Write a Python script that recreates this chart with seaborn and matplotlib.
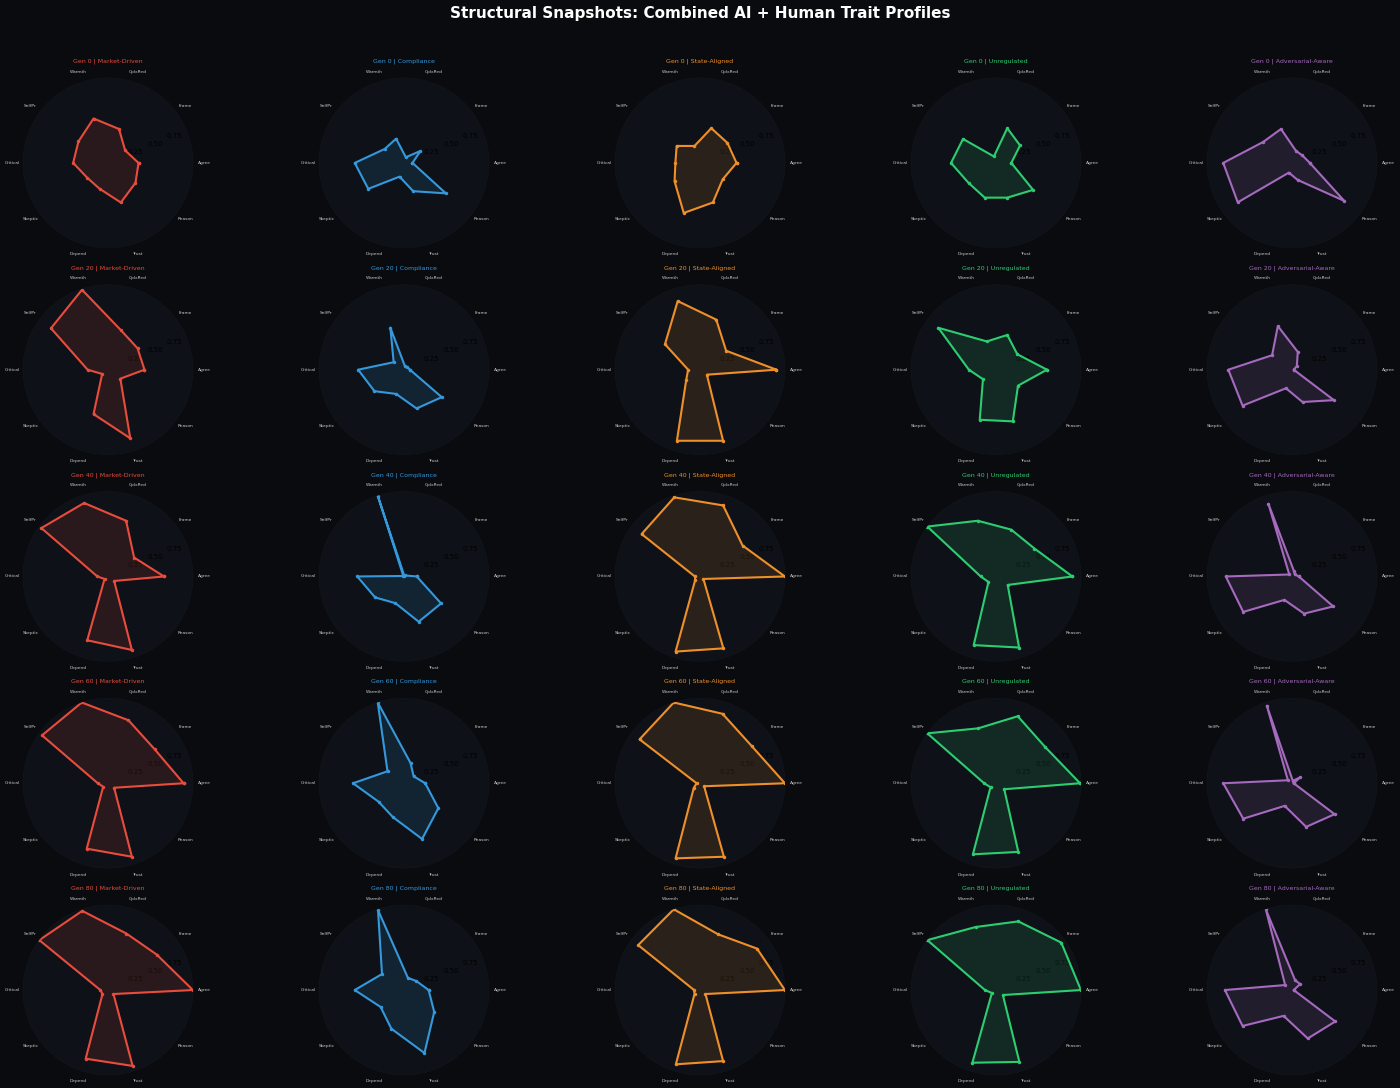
import numpy as np
import matplotlib
matplotlib.use('Agg')
import matplotlib.pyplot as plt
import seaborn as sns

# trait order runs counter-clockwise from the 0 degree axis
TRAITS = ['Agree', 'Frame', 'CplxRed', 'Warmth', 'SelfPr',
          'Critical', 'Skeptic', 'Depend', 'Trust', 'Reason']
GENERATIONS = [0, 20, 40, 60, 80]
STRATEGIES = ['Market-Driven', 'Compliance', 'State-Aligned', 'Unregulated', 'Adversarial-Aware']
COLORS = ['#e74c3c', '#3498db', '#ee8f2a', '#2ecc71', '#a569bd']

# one row per generation, values in TRAITS order
MARKET_DRIVEN = [
    [0.36, 0.25, 0.42, 0.55, 0.43, 0.41, 0.30, 0.32, 0.49, 0.40],
    [0.43, 0.43, 0.49, 0.99, 0.83, 0.24, 0.085, 0.55, 0.85, 0.18],
    [0.66, 0.38, 0.69, 0.91, 0.97, 0.125, 0.05, 0.79, 0.91, 0.09],
    [0.89, 0.68, 0.78, 1.00, 0.96, 0.12, 0.07, 0.81, 0.91, 0.09],
    [1.00, 0.71, 0.70, 0.98, 1.00, 0.09, 0.08, 0.85, 0.94, 0.08],
]
COMPLIANCE = [
    [0.10, 0.24, 0.07, 0.30, 0.28, 0.58, 0.52, 0.17, 0.35, 0.61],
    [0.07, 0.05, 0.04, 0.52, 0.15, 0.54, 0.43, 0.30, 0.48, 0.55],
    [0.15, 0.02, 0.01, 1.00, 0.01, 0.55, 0.42, 0.33, 0.56, 0.54],
    [0.25, 0.14, 0.25, 1.00, 0.24, 0.60, 0.37, 0.42, 0.69, 0.50],
    [0.29, 0.18, 0.15, 0.99, 0.32, 0.58, 0.34, 0.48, 0.78, 0.44],
]
STATE_ALIGNED = [
    [0.43, 0.40, 0.43, 0.21, 0.34, 0.29, 0.37, 0.62, 0.49, 0.33],
    [0.90, 0.38, 0.62, 0.85, 0.51, 0.14, 0.20, 0.88, 0.88, 0.10],
    [1.00, 0.62, 0.88, 0.98, 0.85, 0.06, 0.07, 0.93, 0.89, 0.05],
    [1.00, 0.75, 0.86, 1.00, 0.88, 0.04, 0.09, 0.93, 0.91, 0.06],
    [1.00, 0.83, 0.69, 1.00, 0.90, 0.07, 0.08, 0.92, 0.88, 0.08],
]
UNREGULATED = [
    [0.18, 0.35, 0.43, 0.08, 0.48, 0.53, 0.40, 0.43, 0.43, 0.54],
    [0.60, 0.31, 0.43, 0.35, 0.84, 0.32, 0.19, 0.62, 0.64, 0.32],
    [0.90, 0.56, 0.58, 0.69, 1.00, 0.18, 0.11, 0.85, 0.88, 0.17],
    [0.99, 0.72, 0.83, 0.68, 1.00, 0.14, 0.08, 0.88, 0.85, 0.12],
    [1.00, 0.95, 0.85, 0.78, 1.00, 0.13, 0.06, 0.90, 0.89, 0.10],
]
ADVERSARIAL_AWARE = [
    [0.21, 0.15, 0.15, 0.42, 0.42, 0.81, 0.79, 0.12, 0.21, 0.76],
    [0.02, 0.07, 0.22, 0.54, 0.29, 0.75, 0.72, 0.23, 0.40, 0.61],
    [0.08, 0.04, 0.07, 0.90, 0.04, 0.78, 0.71, 0.29, 0.46, 0.60],
    [0.02, 0.12, 0.03, 0.96, 0.06, 0.81, 0.71, 0.28, 0.54, 0.62],
    [0.02, 0.12, 0.12, 1.00, 0.10, 0.79, 0.72, 0.32, 0.60, 0.63],
]
PROFILES = [MARKET_DRIVEN, COMPLIANCE, STATE_ALIGNED, UNREGULATED, ADVERSARIAL_AWARE]

FIG_BG = '#0a0b0f'
AX_BG = '#0e1218'
LABEL_COLOR = '#c8c8c8'


def draw_radar(ax, values, color, title):
    angles = np.linspace(0, 2 * np.pi, len(TRAITS), endpoint=False)
    theta = np.append(angles, 2 * np.pi)
    r = np.append(values, values[0])

    ax.set_facecolor(AX_BG)
    ax.fill(theta, r, color=color, alpha=0.13, zorder=2)
    sns.lineplot(x=theta, y=r, ax=ax, sort=False, estimator=None, color=color,
                 linewidth=1.5, marker='o', markersize=2.5, markeredgewidth=0, zorder=3)

    ax.set_ylim(0, 1)
    ax.set_yticks([0.25, 0.5, 0.75])
    ax.set_yticklabels(['0.25', '0.50', '0.75'], fontsize=5, color='black')
    ax.set_xticks(angles)
    ax.set_xticklabels(TRAITS, fontsize=3.2, color=LABEL_COLOR)
    ax.tick_params(axis='x', length=0, pad=1)
    ax.tick_params(axis='y', length=0, pad=0)
    ax.set_xlabel('')
    ax.set_ylabel('')
    ax.grid(False)
    ax.spines['polar'].set_color('#12161c')
    ax.spines['polar'].set_linewidth(0.5)
    ax.set_title(title, color=color, fontsize=4.5, pad=5)


def main():
    sns.set_theme(style='dark')
    plt.rcParams['font.family'] = ['DejaVu Sans']
    plt.rcParams['figure.facecolor'] = FIG_BG

    fig, axes = plt.subplots(5, 5, figsize=(14, 10.88), subplot_kw={'projection': 'polar'})
    fig.patch.set_facecolor(FIG_BG)
    fig.subplots_adjust(left=0.0057, right=0.9943, top=0.9283, bottom=0.012,
                        wspace=0.48, hspace=0.2176)

    for i, gen in enumerate(GENERATIONS):
        for j, strategy in enumerate(STRATEGIES):
            draw_radar(axes[i, j], PROFILES[j][i], COLORS[j], f'Gen {gen} | {strategy}')

    fig.text(0.5, 0.988, 'Structural Snapshots: Combined AI + Human Trait Profiles',
             ha='center', va='center', color='white', fontsize=11, fontweight='bold')

    fig.savefig('out.png', dpi=100, facecolor=FIG_BG)
    plt.close(fig)


if __name__ == '__main__':
    main()
